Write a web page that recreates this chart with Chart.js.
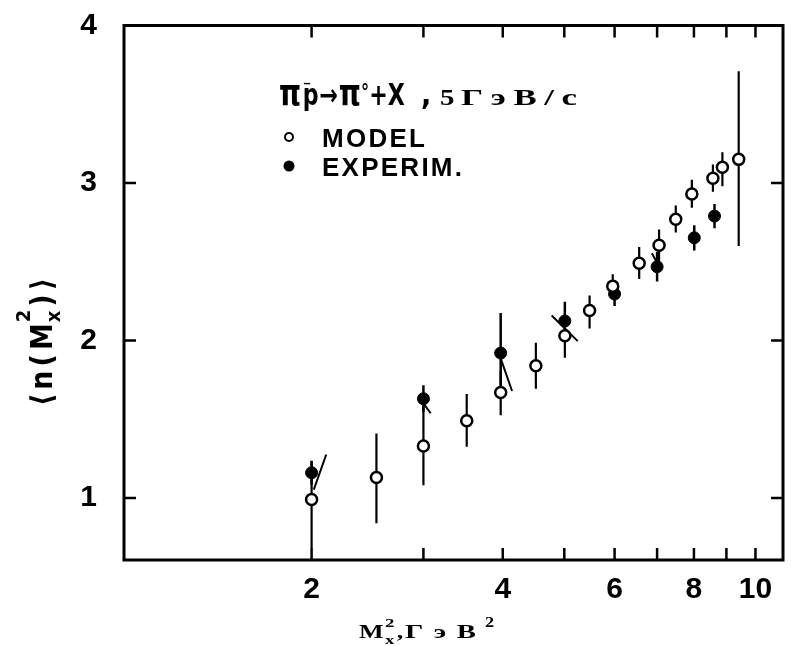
<!DOCTYPE html>
<html>
<head>
<meta charset="utf-8">
<script src="https://cdn.jsdelivr.net/npm/chart.js@4.4.1/dist/chart.umd.min.js"></script>
<style>
  html, body { margin: 0; padding: 0; background: #fff; }
  canvas { display: block; }
</style>
</head>
<body>
<canvas id="chart" width="791" height="646"></canvas>
<script>
// open circles: MODEL
const modelX = [2.0, 2.53, 3.0, 3.51, 3.97, 4.51, 5.01, 5.48, 5.96, 6.56, 7.05, 7.49, 7.94, 8.57, 8.87, 9.41];
const modelY = [0.99, 1.13, 1.33, 1.49, 1.67, 1.84, 2.03, 2.19, 2.345, 2.49, 2.605, 2.77, 2.93, 3.03, 3.10, 3.15];
const modelErrLo = [0.31, 0.29, 0.25, 0.165, 0.145, 0.146, 0.14, 0.114, 0.08, 0.10, 0.10, 0.085, 0.087, 0.085, 0.12, 0.55];
const modelErrHi = [0.245, 0.28, 0.25, 0.17, 0.135, 0.146, 0.14, 0.095, 0.076, 0.104, 0.099, 0.087, 0.091, 0.087, 0.095, 0.56];

// filled circles: EXPERIM.
const expX = [2.0, 3.0, 3.97, 5.01, 6.0, 7.0, 8.01, 8.62];
const expY = [1.16, 1.63, 1.92, 2.124, 2.295, 2.468, 2.652, 2.79];
const expErr = [0.076, 0.085, 0.254, 0.122, 0.076, 0.093, 0.08, 0.077];

// stray slanted strokes in the original figure: [x1, y1, x2, y2]
const strokes = [
  [2.016, 1.053, 2.109, 1.276],
  [3.0, 1.60, 3.08, 1.538],
  [3.975, 1.88, 4.137, 1.679],
  [4.776, 2.159, 5.25, 1.996],
  [6.87, 2.554, 6.985, 2.50],
];

const xTicks = [2, 3, 4, 5, 6, 7, 8, 9, 10];
const xLabels = [2, 4, 6, 8, 10];
const yTicks = [1, 2, 3, 4];

const F_SANS = '"Liberation Sans", Arial, sans-serif';
const F_SERIF = '"Liberation Serif", "Times New Roman", serif';
const F_COND = '"DejaVu Sans Condensed", "DejaVu Sans", sans-serif';

function errorSegments(xs, ys, lo, hi) {
  const out = [];
  xs.forEach((x, i) => {
    out.push({ x: x, y: ys[i] - lo[i] }, { x: x, y: ys[i] + hi[i] }, { x: x, y: null });
  });
  return out;
}

function strokeSegments(list) {
  const out = [];
  list.forEach(s => {
    out.push({ x: s[0], y: s[1] }, { x: s[2], y: s[3] }, { x: s[2], y: null });
  });
  return out;
}

// draw a string with its characters spread between x0 and x1
function spread(ctx, text, font, x0, x1, y, hs) {
  ctx.font = font;
  const chars = [...text];
  const w = chars.map(c => ctx.measureText(c).width * hs);
  const total = w.reduce((a, b) => a + b, 0);
  const gap = chars.length > 1 ? (x1 - x0 - total) / (chars.length - 1) : 0;
  let x = x0;
  chars.forEach((c, i) => {
    ctx.save();
    ctx.translate(x, y);
    ctx.scale(hs, 1);
    ctx.fillText(c, 0, 0);
    ctx.restore();
    x += w[i] + gap;
  });
}

// draw runs of text with different fonts / offsets, returns end x
function runs(ctx, x, y, parts, measureOnly) {
  for (const p of parts) {
    ctx.font = p.font;
    if (!measureOnly) ctx.fillText(p.text, x, y + (p.dy || 0));
    if (!p.back) x += ctx.measureText(p.text).width + (p.gap || 0);
  }
  return x;
}

const framePlugin = {
  id: 'frame',
  afterDatasetsDraw(chart) {
    const ctx = chart.ctx;
    const a = chart.chartArea;
    const xs = chart.scales.x, ys = chart.scales.y;
    ctx.save();
    ctx.strokeStyle = '#000';
    ctx.lineWidth = 3;
    ctx.strokeRect(a.left, a.top, a.right - a.left, a.bottom - a.top);
    ctx.lineWidth = 2.5;
    ctx.beginPath();
    xTicks.forEach(v => {
      const px = xs.getPixelForValue(v);
      ctx.moveTo(px, a.bottom); ctx.lineTo(px, a.bottom - 12);
      ctx.moveTo(px, a.top); ctx.lineTo(px, a.top + 12);
    });
    yTicks.filter(v => v < 4).forEach(v => {
      const py = ys.getPixelForValue(v);
      ctx.moveTo(a.left, py); ctx.lineTo(a.left + 12, py);
      ctx.moveTo(a.right, py); ctx.lineTo(a.right - 12, py);
    });
    ctx.stroke();
    ctx.restore();
  },
  afterDraw(chart) {
    const ctx = chart.ctx;
    ctx.save();
    ctx.fillStyle = '#000';
    ctx.textBaseline = 'alphabetic';
    ctx.textAlign = 'left';

    // reaction title, horizontally condensed
    const big = 'bold 30px ' + F_COND;
    const pi = 'bold 38px ' + F_COND;
    const sup = 'bold 22px ' + F_COND;
    ctx.save();
    ctx.translate(279, 105);
    ctx.scale(0.82, 1);
    runs(ctx, 0, 0, [
      { text: 'π', font: pi, gap: 2 },
      { text: '⁻', font: sup, dy: -10, back: true },
      { text: 'p', font: big, gap: 1 },
      { text: '→', font: big, gap: 1 },
      { text: 'π', font: pi },
      { text: '°', font: sup, dy: -6 },
      { text: '+', font: big },
      { text: 'X', font: big },
    ]);
    ctx.restore();
    ctx.font = big;
    ctx.fillText(',', 421, 105);
    spread(ctx, '5', 'bold 24px ' + F_SERIF, 440, 454, 105, 1.2);
    spread(ctx, 'ГэВ/c', 'bold 24px ' + F_SERIF, 461, 577, 105, 1.45);

    // legend
    ctx.lineWidth = 2;
    ctx.strokeStyle = '#000';
    ctx.beginPath();
    ctx.arc(289, 137, 4, 0, Math.PI * 2);
    ctx.stroke();
    ctx.beginPath();
    ctx.arc(289, 166, 5.5, 0, Math.PI * 2);
    ctx.fill();
    spread(ctx, 'MODEL', 'bold 26px ' + F_SANS, 322, 425, 147, 1);
    spread(ctx, 'EXPERIM.', 'bold 26px ' + F_SANS, 322, 462, 176, 1);

    // y axis title, rotated
    const yParts = [
      { text: '⟨', font: 'bold 30px ' + F_COND, gap: 4 },
      { text: 'n', font: 'bold 30px ' + F_COND, gap: 4 },
      { text: '(', font: 'bold 30px ' + F_COND, gap: 4 },
      { text: 'M', font: 'bold 30px ' + F_COND, gap: 1 },
      { text: '2', font: 'bold 20px ' + F_COND, dy: -22, back: true },
      { text: 'x', font: 'bold 20px ' + F_COND, dy: 8, gap: 4 },
      { text: ')', font: 'bold 30px ' + F_COND, gap: 4 },
      { text: '⟩', font: 'bold 30px ' + F_COND },
    ];
    ctx.translate(52, 342);
    ctx.rotate(-Math.PI / 2);
    const len = runs(ctx, 0, 0, yParts, true);
    runs(ctx, -len / 2, 0, yParts);
    ctx.setTransform(1, 0, 0, 1, 0, 0);

    // x axis title
    ctx.save();
    ctx.translate(359, 638);
    ctx.scale(1.45, 1);
    ctx.font = 'bold 18px ' + F_SERIF;
    ctx.fillText('M', 0, 0);
    const mw = ctx.measureText('M').width;
    ctx.font = 'bold 13px ' + F_SERIF;
    ctx.fillText('2', mw + 1, -11);
    ctx.fillText('x', mw + 1, 6);
    ctx.font = 'bold 18px ' + F_SERIF;
    ctx.fillText(',', mw + 9, 0);
    ctx.restore();
    spread(ctx, 'ГэВ', 'bold 18px ' + F_SERIF, 405, 476, 638, 1.6);
    ctx.save();
    ctx.translate(485, 627);
    ctx.scale(1.3, 1);
    ctx.font = 'bold 14px ' + F_SERIF;
    ctx.fillText('2', 0, 0);
    ctx.restore();

    ctx.restore();
  }
};

const tickFont = { family: F_SANS, size: 30, weight: 'bold' };

new Chart(document.getElementById('chart'), {
  type: 'scatter',
  data: {
    datasets: [
      {
        label: 'MODEL',
        data: modelX.map((x, i) => ({ x: x, y: modelY[i] })),
        showLine: false,
        pointRadius: 5.5,
        pointBorderWidth: 2.5,
        pointBackgroundColor: '#fff',
        pointBorderColor: '#000',
      },
      {
        label: 'EXPERIM.',
        data: expX.map((x, i) => ({ x: x, y: expY[i] })),
        showLine: false,
        pointRadius: 6,
        pointBorderWidth: 1,
        pointBackgroundColor: '#000',
        pointBorderColor: '#000',
      },
      {
        label: 'model errors',
        data: errorSegments(modelX, modelY, modelErrLo, modelErrHi),
        showLine: true,
        spanGaps: false,
        borderColor: '#000',
        borderWidth: 2.2,
        pointRadius: 0,
      },
      {
        label: 'exp errors',
        data: errorSegments(expX, expY, expErr, expErr),
        showLine: true,
        spanGaps: false,
        borderColor: '#000',
        borderWidth: 2.5,
        pointRadius: 0,
      },
      {
        label: 'strokes',
        data: strokeSegments(strokes),
        showLine: true,
        spanGaps: false,
        borderColor: '#000',
        borderWidth: 2,
        pointRadius: 0,
      },
    ],
  },
  options: {
    responsive: false,
    animation: false,
    events: [],
    layout: { padding: { top: 25.5, right: 5, left: 0, bottom: 0 } },
    plugins: { legend: { display: false }, tooltip: { enabled: false } },
    scales: {
      x: {
        type: 'logarithmic',
        min: 1.013,
        max: 11.05,
        afterBuildTicks: (s) => { s.ticks = xLabels.map(v => ({ value: v })); },
        afterFit: (s) => { s.height = 86; s.paddingLeft = 0; s.paddingRight = 0; },
        grid: { display: false },
        border: { display: false },
        ticks: {
          font: tickFont,
          color: '#000',
          padding: 4,
          autoSkip: false,
          maxRotation: 0,
          callback: (v) => String(v),
        },
      },
      y: {
        type: 'linear',
        min: 0.606,
        max: 4.0,
        afterBuildTicks: (s) => { s.ticks = yTicks.map(v => ({ value: v })); },
        afterFit: (s) => { s.width = 124; s.paddingTop = 0; s.paddingBottom = 0; },
        grid: { display: false },
        border: { display: false },
        ticks: {
          font: tickFont,
          color: '#000',
          padding: 19,
          callback: (v) => String(v),
        },
      },
    },
  },
  plugins: [framePlugin],
});
</script>
</body>
</html>
